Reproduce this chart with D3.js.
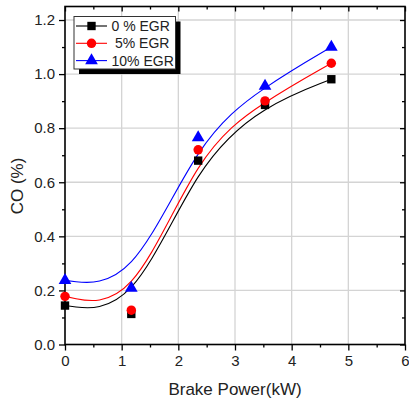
<!DOCTYPE html>
<html>
<head>
<meta charset="utf-8">
<script src="https://cdn.jsdelivr.net/npm/d3@7"></script>
<style>
  html, body { margin: 0; padding: 0; background: #fff; }
  svg { display: block; font-family: "Liberation Sans", Arial, sans-serif; }
</style>
</head>
<body>
<svg id="chart" width="409" height="402"></svg>
<script>
// ---- data ----
const power = [0, 1.17, 2.35, 3.53, 4.7];             // Brake Power (kW)
const co0   = [0.144, 0.113, 0.68, 0.886, 0.981];     // 0 % EGR
const co5   = [0.178, 0.127, 0.72, 0.901, 1.04];      // 5% EGR
const co10  = [0.237, 0.209, 0.765, 0.956, 1.10];     // 10% EGR
const seriesNames = ["0 % EGR", "5% EGR", "10% EGR"];
const xTicks = [0, 1, 2, 3, 4, 5, 6];
const yTicks = [0.0, 0.2, 0.4, 0.6, 0.8, 1.0, 1.2];
const xTitle = "Brake Power(kW)";
const yTitle = "CO (%)";

// ---- layout ----
const W = 409, H = 402;
const L = 65, R = 405, T = 6.5, B = 344.5;
const svg = d3.select("#chart");

const x = d3.scaleLinear().domain([0, 6]).range([L, R]);
const y = d3.scaleLinear().domain([0, 1.25]).range([B, T]);

const colors = ["#000000", "#ff0000", "#0000ff"];
const shapes = [d3.symbolSquare, d3.symbolCircle, d3.symbolTriangle];
const sizes = [70, 70, 70];
const series = [co0, co5, co10].map((vals, i) => ({
  name: seriesNames[i], color: colors[i], shape: shapes[i], size: sizes[i],
  pts: power.map((p, j) => ({ x: p, y: vals[j] }))
}));

// ---- grid ----
const grid = svg.append("g").attr("stroke", "#d4d4d4").attr("stroke-width", 1.3);
xTicks.filter(t => t > 0 && t < 6).forEach(t => {
  grid.append("line").attr("x1", x(t)).attr("x2", x(t)).attr("y1", T).attr("y2", B);
});
yTicks.filter(t => t > 0).forEach(t => {
  grid.append("line").attr("x1", L).attr("x2", R).attr("y1", y(t)).attr("y2", y(t));
});

// ---- axes ----
const fmtY = d3.format(".1f");
const yMinor = d3.range(0, 1.25, 0.1).filter(v => Math.abs(Math.round(v * 5) - v * 5) > 1e-6);
const xMinor = d3.range(0.5, 6, 1);

const axL = svg.append("g").attr("transform", `translate(${L},0)`)
  .call(d3.axisLeft(y).tickValues(yTicks).tickFormat(fmtY).tickSize(6).tickPadding(4));
const axB = svg.append("g").attr("transform", `translate(0,${B})`)
  .call(d3.axisBottom(x).tickValues(xTicks).tickFormat(d3.format("d")).tickSize(6).tickPadding(5));
const axLm = svg.append("g").attr("transform", `translate(${L},0)`)
  .call(d3.axisLeft(y).tickValues(yMinor).tickFormat("").tickSize(3));
const axBm = svg.append("g").attr("transform", `translate(0,${B})`)
  .call(d3.axisBottom(x).tickValues(xMinor).tickFormat("").tickSize(3));
const axR = svg.append("g").attr("transform", `translate(${R},0)`)
  .call(d3.axisLeft(y).tickValues(yTicks).tickFormat("").tickSize(5));
const axRm = svg.append("g").attr("transform", `translate(${R},0)`)
  .call(d3.axisLeft(y).tickValues(yMinor).tickFormat("").tickSize(3));
const axT = svg.append("g").attr("transform", `translate(0,${T})`)
  .call(d3.axisBottom(x).tickValues(xTicks).tickFormat("").tickSize(5));
const axTm = svg.append("g").attr("transform", `translate(0,${T})`)
  .call(d3.axisBottom(x).tickValues(xMinor).tickFormat("").tickSize(3));

[axL, axB, axLm, axBm, axR, axRm, axT, axTm].forEach(g => {
  g.selectAll(".domain").remove();
  g.selectAll("line").attr("stroke", "#000").attr("stroke-width", 1.3);
  g.selectAll("text").attr("font-size", 15).attr("fill", "#222")
    .attr("font-family", "'Liberation Sans', Arial, sans-serif");
});

// frame
svg.append("rect").attr("x", L).attr("y", T).attr("width", R - L).attr("height", B - T)
  .attr("fill", "none").attr("stroke", "#000").attr("stroke-width", 1.6);

// ---- titles ----
svg.append("text").attr("x", (L + R) / 2).attr("y", 395).attr("text-anchor", "middle")
  .attr("font-size", 17).attr("fill", "#222").text(xTitle);
svg.append("text").attr("transform", `translate(23,186) rotate(-90)`).attr("text-anchor", "middle")
  .attr("font-size", 17).attr("fill", "#222").text(yTitle);

// ---- fitted B-spline curves ----
const line = d3.line().x(d => x(d.x)).y(d => y(d.y)).curve(d3.curveBasis);
series.forEach(s => {
  svg.append("path").attr("d", line(s.pts)).attr("fill", "none")
    .attr("stroke", s.color).attr("stroke-width", 1.1);
});

// ---- markers ----
series.forEach(s => {
  svg.append("g").selectAll("path").data(s.pts).join("path")
    .attr("transform", d => `translate(${x(d.x)},${y(d.y)})`)
    .attr("d", d3.symbol().type(s.shape).size(s.size))
    .attr("fill", s.color);
});

// ---- legend ----
const lg = svg.append("g").attr("transform", "translate(74,16.5)");
const lw = 101.5, lh = 52.5;
lg.append("rect").attr("x", 5).attr("y", 5).attr("width", lw).attr("height", lh).attr("fill", "#000");
lg.append("rect").attr("x", 0).attr("y", 0).attr("width", lw).attr("height", lh)
  .attr("fill", "#fff").attr("stroke", "#333").attr("stroke-width", 1);
series.forEach((s, i) => {
  const ry = 9.5 + i * 17.3;
  lg.append("line").attr("x1", 2).attr("x2", 33).attr("y1", ry).attr("y2", ry)
    .attr("stroke", s.color).attr("stroke-width", 1.1);
  lg.append("path").attr("transform", `translate(17.5,${ry})`)
    .attr("d", d3.symbol().type(s.shape).size(s.size)).attr("fill", s.color);
  lg.append("text").attr("x", i === 1 ? 41 : 37.5).attr("y", ry + 5)
    .attr("font-size", 14).attr("fill", "#222").text(s.name);
});
</script>
</body>
</html>
